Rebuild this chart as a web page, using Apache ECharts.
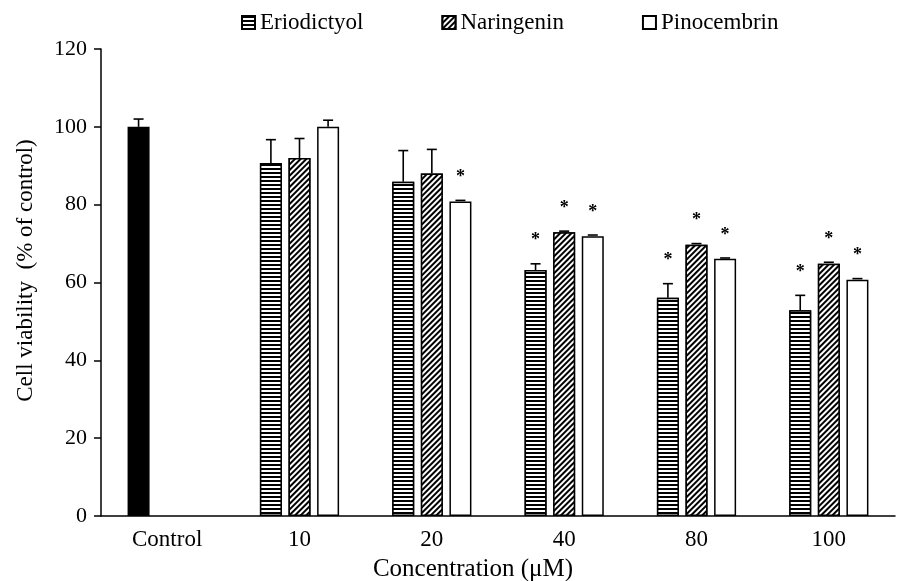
<!DOCTYPE html>
<html>
<head>
<meta charset="utf-8">
<script src="https://cdn.jsdelivr.net/npm/echarts@6/dist/echarts.min.js"></script>
<style>
  html, body { margin: 0; padding: 0; background: #fff; }
  #chart { width: 898px; height: 581px; }
</style>
</head>
<body>
<div id="chart"></div>
<script>
const categories = ['Control', '10', '20', '40', '80', '100'];
const yTicks = [0, 20, 40, 60, 80, 100, 120];

// mean viability (% of control), '-' = no bar
const control = [100, '-', '-', '-', '-', '-'];
const controlErr = [2, 0, 0, 0, 0, 0];
const eriodictyol = ['-', 90.7, 85.9, 63.2, 56.1, 52.9];
const eriodictyolErr = [0, 6, 8, 1.6, 3.6, 3.8];
const naringenin = ['-', 92, 88, 72.9, 69.7, 64.8];
const naringeninErr = [0, 5, 6.2, 0.3, 0.3, 0.4];
const pinocembrin = ['-', 100, 80.8, 71.9, 66.1, 60.7];
const pinocembrinErr = [0, 1.7, 0.3, 0.3, 0.2, 0.3];
// 1 = significant (*)
const eriodictyolSig = [0, 0, 0, 1, 1, 1];
const naringeninSig = [0, 0, 0, 1, 1, 1];
const pinocembrinSig = [0, 0, 1, 1, 1, 1];

const FONT = '"Liberation Serif", "Times New Roman", serif';
const barWidth = 22;
const slot = 28.6; // barWidth + gap

const hStripes = {
  symbol: 'rect', symbolSize: 1,
  dashArrayX: [1, 0], dashArrayY: [2, 2],
  rotation: 0, color: '#000', backgroundColor: '#fff'
};
const diagStripes = {
  symbol: 'rect', symbolSize: 1,
  dashArrayX: [1, 0], dashArrayY: [1.5, 2],
  rotation: -Math.PI / 4, color: '#000', backgroundColor: '#fff'
};

function errData(vals, errs, sig) {
  const out = [];
  vals.forEach(function (v, i) {
    if (v === '-') return;
    out.push([i, v, errs[i], sig ? sig[i] : 0]);
  });
  return out;
}

function errSeries(data, offset) {
  return {
    type: 'custom',
    z: 5,
    silent: true,
    encode: { x: 0, y: 1 },
    data: data,
    renderItem: function (params, api) {
      const cat = api.value(0);
      const val = api.value(1);
      const err = api.value(2);
      const sig = api.value(3);
      const base = api.coord([cat, val]);
      const top = api.coord([cat, val + err]);
      const x = base[0] + offset;
      const lineStyle = { stroke: '#000', lineWidth: 1.6 };
      const children = [];
      if (err > 0.5) {
        children.push({ type: 'line', shape: { x1: x, y1: base[1], x2: x, y2: top[1] }, style: lineStyle });
      }
      children.push({ type: 'line', shape: { x1: x - 5, y1: top[1], x2: x + 5, y2: top[1] }, style: lineStyle });
      if (sig) {
        children.push({
          type: 'text',
          style: {
            text: '*', x: x, y: top[1] - 23,
            font: 'bold 18px ' + FONT, fill: '#000',
            align: 'center', verticalAlign: 'middle'
          }
        });
      }
      return { type: 'group', children: children };
    }
  };
}

const chart = echarts.init(document.getElementById('chart'));

const option = {
  animation: false,
  backgroundColor: '#fff',
  legend: {
    data: ['Eriodictyol', 'Naringenin', 'Pinocembrin'],
    left: 236,
    top: 6,
    icon: 'rect',
    itemWidth: 13,
    itemHeight: 13,
    itemGap: 78,
    textStyle: { fontFamily: FONT, fontSize: 23, color: '#000' }
  },
  grid: { left: 101, right: 3, top: 49, bottom: 65, outerBoundsMode: 'none' },
  xAxis: {
    type: 'category',
    data: categories,
    name: 'Concentration (\u03bcM)',
    nameLocation: 'middle',
    nameGap: 41,
    nameTextStyle: { fontFamily: FONT, fontSize: 25, color: '#000', padding: [0, 50, 0, 0] },
    axisLine: { lineStyle: { color: '#000', width: 1.5 } },
    axisTick: { alignWithLabel: true, length: 7, lineStyle: { color: '#000', width: 1.5 } },
    axisLabel: { fontFamily: FONT, fontSize: 23, color: '#000', margin: 12 }
  },
  yAxis: {
    type: 'value',
    min: yTicks[0],
    max: yTicks[yTicks.length - 1],
    interval: 20,
    name: 'Cell viability  (% of control)',
    nameLocation: 'middle',
    nameGap: 64,
    nameTextStyle: { fontFamily: FONT, fontSize: 23, color: '#000', padding: [0, 0, 0, 24] },
    splitLine: { show: false },
    axisLine: { show: true, lineStyle: { color: '#000', width: 1.5 } },
    axisTick: { show: true, length: 7, lineStyle: { color: '#000', width: 1.5 } },
    axisLabel: { fontFamily: FONT, fontSize: 22, color: '#000', margin: 14 }
  },
  series: [
    {
      name: 'Control', type: 'bar', stack: 'e', data: control,
      barWidth: barWidth, barGap: '30%',
      itemStyle: { color: '#000', borderColor: '#000', borderWidth: 1.5 }
    },
    {
      name: 'Eriodictyol', type: 'bar', stack: 'e', data: eriodictyol,
      barWidth: barWidth, barGap: '30%',
      itemStyle: { color: '#fff', borderColor: '#000', borderWidth: 1.5, decal: hStripes }
    },
    {
      name: 'Naringenin', type: 'bar', data: naringenin,
      barWidth: barWidth, barGap: '30%',
      itemStyle: { color: '#fff', borderColor: '#000', borderWidth: 1.5, decal: diagStripes }
    },
    {
      name: 'Pinocembrin', type: 'bar', data: pinocembrin,
      barWidth: barWidth, barGap: '30%',
      itemStyle: { color: '#fff', borderColor: '#000', borderWidth: 1.5 }
    },
    errSeries(errData(control, controlErr, null), -slot),
    errSeries(errData(eriodictyol, eriodictyolErr, eriodictyolSig), -slot),
    errSeries(errData(naringenin, naringeninErr, naringeninSig), 0),
    errSeries(errData(pinocembrin, pinocembrinErr, pinocembrinSig), slot)
  ]
};

chart.setOption(option);
</script>
</body>
</html>
